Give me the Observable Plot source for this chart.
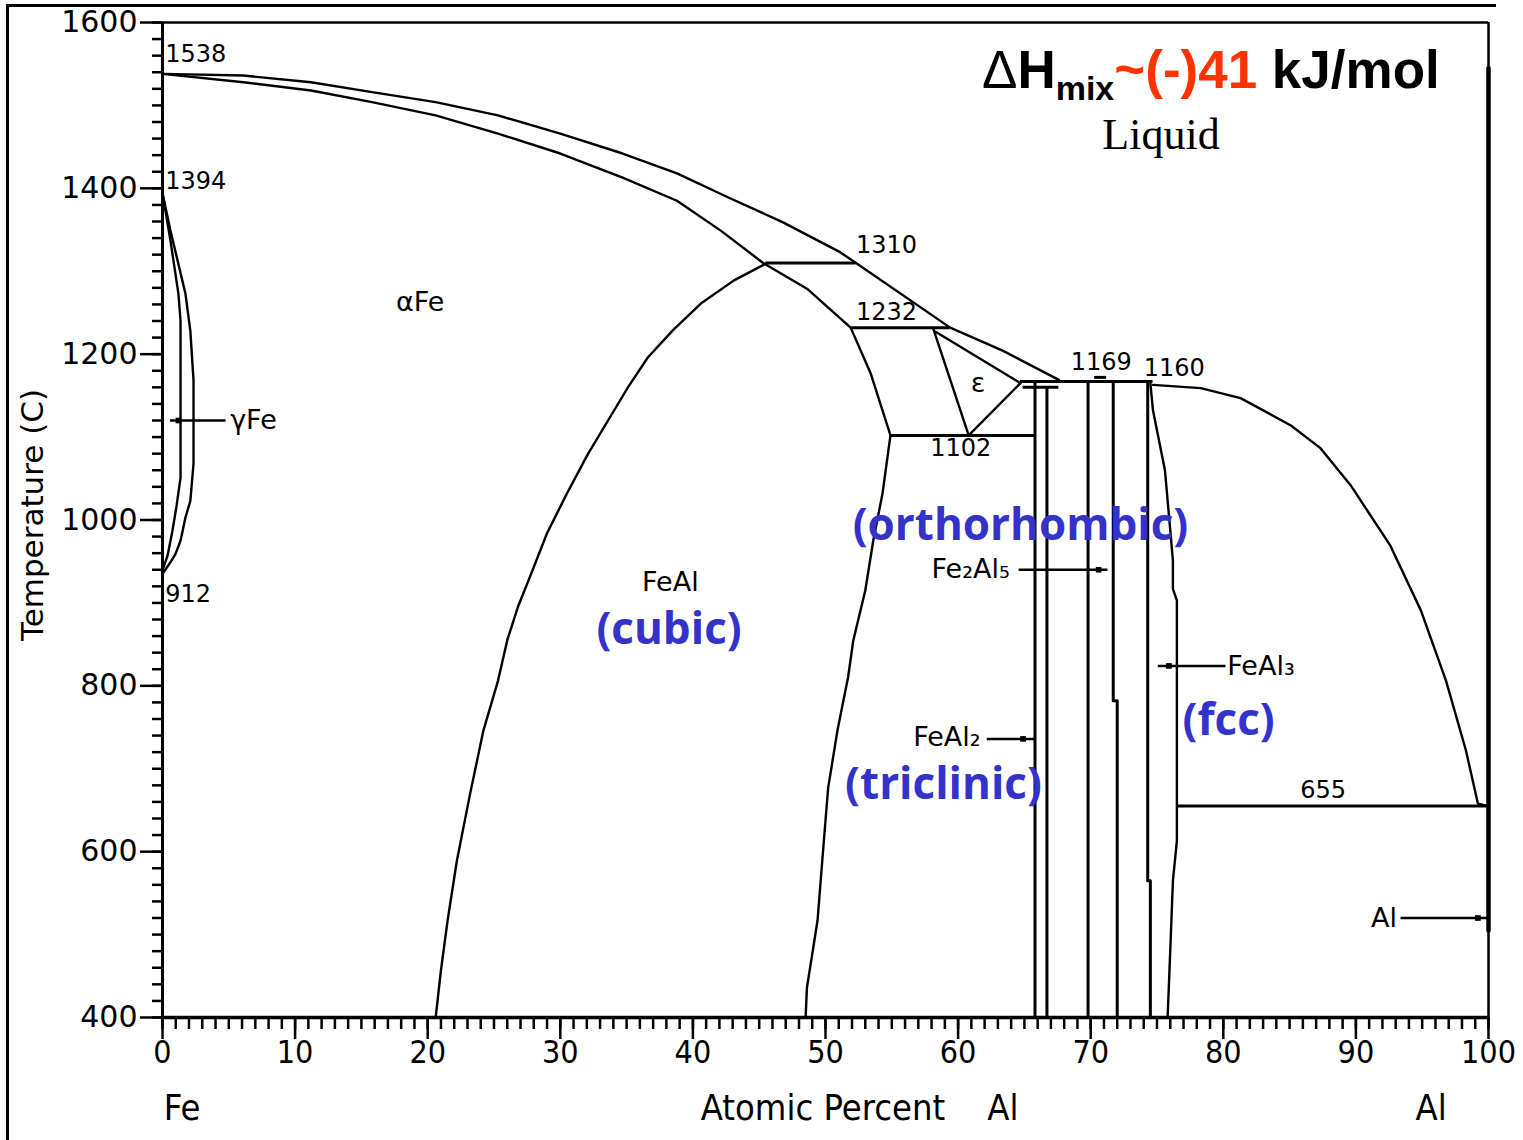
<!DOCTYPE html>
<html>
<head>
<meta charset="utf-8">
<script src="https://cdn.jsdelivr.net/npm/d3@7"></script>
<script src="https://cdn.jsdelivr.net/npm/@observablehq/plot@0.6"></script>
<style>
  body { margin: 0; background: #fff; }
  #wrap { position: relative; width: 1523px; height: 1140px; overflow: hidden; background: #fff; }
  #wrap svg { position: absolute; left: 0; top: 0; }
  #frame { position: absolute; left: 6px; top: 4px; width: 1487px; height: 1150px;
           border-left: 3px solid #000; border-top: 3px solid #000; pointer-events: none; }
  #title { position: absolute; left: 982px; top: 43px; line-height: 53px; white-space: nowrap;
           font-family: "Liberation Sans", Arial, sans-serif; font-weight: bold; font-size: 53px; color: #000; }
  #title .delta { font-weight: normal; }
  #title sub { font-size: 34px; vertical-align: -12px; line-height: 0; }
  #title .red { color: #ff3300; }
</style>
</head>
<body>
<div id="wrap">
  <div id="frame"></div>
  <div id="title"><span class="delta">Δ</span>H<sub>mix</sub><span class="red">~(-)41</span> kJ/mol</div>
</div>
<script>
// ---------- phase boundaries: [atomic % Al, temperature °C] ----------
const liquidusFe = [[0,1538],[6.1,1536],[11.2,1528],[15.8,1516],[20.6,1504],[25.3,1488],[30.0,1466],[34.7,1442],[38.8,1418],[42.8,1388],[46.8,1359],[51.1,1323],[52.3,1310],[59.4,1232],[63.4,1204],[67.6,1169]];
const solidusFe = [[0,1538],[6.1,1528],[11.2,1518],[15.8,1504],[20.6,1488],[25.3,1466],[30.0,1442],[34.7,1413],[38.8,1385],[42.1,1349],[45.3,1310],[48.6,1279],[51.9,1232],[53.4,1177],[54.7,1112],[54.9,1102]];
const feAlRight = [[54.9,1102],[54.3,1032],[53.6,975],[53.0,915],[52.1,855],[51.7,810],[50.9,746],[50.2,677],[49.8,598],[49.4,517],[48.6,436],[48.5,400]];
const feAlLeft = [[45.6,1310],[43.1,1289],[40.6,1261],[38.5,1229],[36.6,1196],[35.1,1160],[33.6,1120],[32.1,1080],[30.5,1032],[29.0,984],[27.8,935],[26.8,895],[26.0,855],[25.3,806],[24.2,746],[23.2,670],[22.2,589],[21.5,517],[21.0,457],[20.6,400]];
const gammaOuter = [[0,1394],[0.6,1349],[1.73,1273],[2.1,1228],[2.34,1168],[2.34,1068],[2.1,1023],[1.73,1003],[1.36,975],[0.98,959],[0.6,949],[0,935]];
const gammaInner = [[0,1394],[0.6,1337],[1.2,1273],[1.36,1240],[1.36,1051],[1.06,1017],[0.75,987],[0.38,957],[0,939]];
const epsLeft = [[58.1,1232],[60.8,1102]];
const epsTop = [[58.3,1227],[64.7,1165]];
const epsBottom = [[60.8,1102],[64.7,1165]];
const feAl3Right = [[74.5,1165],[74.7,1132],[75.6,1060],[76.2,951],[76.2,917],[76.5,903],[76.5,613],[76.2,565],[76.0,481],[75.8,400]];
const liquidusAl = [[74.7,1163],[78.3,1159],[81.3,1147],[85.1,1114],[87.3,1087],[89.6,1042],[92.6,969],[94.9,891],[96.8,806],[98.3,722],[99.2,658],[100,655]];
// intermetallic compound boundaries (near-vertical)
const feAl2Left = [[65.8,1165],[65.8,400]];
const feAl2Right = [[66.7,1160],[66.7,400]];
const fe2Al5Left = [[69.8,1167],[69.8,400]];
const fe2Al5Right = [[71.7,1167],[71.7,782],[72.0,782],[72.0,400]];
const feAl3Left = [[74.3,1165],[74.3,565],[74.5,565],[74.5,400]];
const pureAl = [[100,1545],[100,505]];

// invariant (horizontal) lines
const isoT  = [1310, 1232, 1102, 1167, 1160, 1172, 655];
const isoX1 = [45.5, 51.9, 54.9, 64.7, 64.9, 70.3, 76.5];
const isoX2 = [52.3, 59.4, 65.8, 74.7, 67.6, 71.2, 100];

// leader lines for phase labels
const leadT   = [1120, 940, 736, 824, 520];
const leadX1  = [0.6, 64.6, 62.2, 75.1, 93.4];
const leadX2  = [4.8, 71.3, 65.8, 80.2, 100];
const leadDot = [1.2, 70.6, 64.9, 75.9, 99.2];

// temperature labels
const tempText = ["1538","1394","912","1310","1232","1169","1160","1102","655"];
const tempX    = [0.2, 0.2, 0.2, 52.3, 52.3, 68.5, 74.0, 57.9, 85.8];
const tempT    = [1562, 1409, 910, 1331, 1250, 1190, 1183, 1086, 674];

// phase labels
const phaseStartText = ["αFe","γFe","FeAl₃"];
const phaseStartX = [17.6, 5.1, 80.3];
const phaseStartT = [1262, 1120, 824];
const phaseEndText = ["Fe₂Al₅","FeAl₂","Al"];
const phaseEndX = [63.9, 61.7, 93.1];
const phaseEndT = [940, 738, 520];
const phaseMidText = ["ε","FeAl"];
const phaseMidX = [61.5, 38.3];
const phaseMidT = [1165, 925];

// crystal structure labels
const structText = ["(cubic)","(orthorhombic)","(triclinic)","(fcc)"];
const structX = [38.2, 64.7, 58.9, 80.4];
const structT = [867, 993, 681, 758];

// axis ticks and bottom labels
const yMajor = d3.range(400, 1601, 200);
const yMinor = d3.range(400, 1601, 20);
const xMajor = d3.range(0, 101, 10);
const xMinor = d3.range(0, 101, 1);
const bottomText = ["Fe", "Atomic Percent", "Al", "Al"];
const bottomX = [0.1, 40.6, 62.2, 94.5];

// ---------- build tables ----------
const curves = {liquidusFe, solidusFe, feAlRight, feAlLeft, gammaOuter, gammaInner, epsLeft, epsTop, epsBottom, feAl3Right, liquidusAl};
const compounds = {feAl2Left, feAl2Right, fe2Al5Left, fe2Al5Right, feAl3Left};
const toRows = obj => Object.entries(obj).flatMap(([k, arr]) => arr.map(([x, T]) => ({series: k, x, T})));
const curveRows = toRows(curves);
const compoundRows = toRows(compounds);
const pureAlRows = pureAl.map(([x, T]) => ({x, T}));
const isoRows = isoT.map((T, i) => ({T, x1: isoX1[i], x2: isoX2[i]}));
const leadRows = leadT.map((T, i) => ({T, x1: leadX1[i], x2: leadX2[i], dot: leadDot[i]}));
const tempRows = tempText.map((t, i) => ({t, x: tempX[i], T: tempT[i]}));
const startRows = phaseStartText.map((t, i) => ({t, x: phaseStartX[i], T: phaseStartT[i]}));
const endRows = phaseEndText.map((t, i) => ({t, x: phaseEndX[i], T: phaseEndT[i]}));
const midRows = phaseMidText.map((t, i) => ({t, x: phaseMidX[i], T: phaseMidT[i]}));
const structRows = structText.map((t, i) => ({t, x: structX[i], T: structT[i]}));
const bottomRows = bottomText.map((t, i) => ({t, x: bottomX[i]}));

const labelFont = "DejaVu Sans, Verdana, sans-serif";
const condensed = "DejaVu Sans Condensed, Liberation Sans Narrow, DejaVu Sans, sans-serif";

const chart = Plot.plot({
  width: 1523,
  height: 1140,
  marginLeft: 162,
  marginRight: 35,
  marginTop: 22,
  marginBottom: 123,
  x: {domain: [0, 100]},
  y: {domain: [400, 1600]},
  style: {background: "transparent", color: "black", fontFamily: labelFont},
  marks: [
    // axes ticks
    Plot.axisY({ticks: yMinor, tickSize: 10, strokeWidth: 2.5, tickFormat: () => "", label: null}),
    Plot.axisY({ticks: yMajor, tickSize: 22, tickPadding: 3, strokeWidth: 2.5, fontSize: 30,
                fontFamily: labelFont, tickFormat: d => String(d), label: null}),
    Plot.axisX({ticks: xMinor, tickSize: 12, strokeWidth: 2.5, tickFormat: () => "", label: null}),
    Plot.axisX({ticks: xMajor, tickSize: 22, tickPadding: 1, strokeWidth: 2.5, fontSize: 32,
                fontFamily: condensed, tickFormat: d => String(d), label: null}),
    Plot.text(["Temperature (C)"], {frameAnchor: "left", textAnchor: "middle", rotate: -90, dx: -129, dy: -5,
                                    fontSize: 31, fontFamily: labelFont}),
    // frame
    Plot.ruleY([1600], {strokeWidth: 2.5}),
    Plot.ruleX([100], {strokeWidth: 2.5}),
    Plot.ruleX([0], {strokeWidth: 3}),
    Plot.ruleY([400], {strokeWidth: 3.5}),
    // phase boundaries
    Plot.line(curveRows, {x: "x", y: "T", z: "series", stroke: "black", strokeWidth: 2.4, curve: "linear"}),
    Plot.line(compoundRows, {x: "x", y: "T", z: "series", stroke: "black", strokeWidth: 3}),
    Plot.line(pureAlRows, {x: "x", y: "T", stroke: "black", strokeWidth: 4.5}),
    Plot.ruleY(isoRows, {y: "T", x1: "x1", x2: "x2", stroke: "black", strokeWidth: 3}),
    // leaders
    Plot.ruleY(leadRows, {y: "T", x1: "x1", x2: "x2", stroke: "black", strokeWidth: 2.5}),
    Plot.dot(leadRows, {x: "dot", y: "T", symbol: "square", r: 3.2, fill: "black"}),
    // labels
    Plot.text(tempRows, {x: "x", y: "T", text: "t", textAnchor: "start", fontSize: 24, fill: "black"}),
    Plot.text(startRows, {x: "x", y: "T", text: "t", textAnchor: "start", fontSize: 27, fill: "black"}),
    Plot.text(endRows, {x: "x", y: "T", text: "t", textAnchor: "end", fontSize: 27, fill: "black"}),
    Plot.text(midRows, {x: "x", y: "T", text: "t", textAnchor: "middle", fontSize: 27, fill: "black"}),
    Plot.text(structRows, {x: "x", y: "T", text: "t", textAnchor: "middle", fontSize: 44, fontWeight: "bold",
                           fontFamily: "Open Sans, Noto Sans, sans-serif", fill: "#3333cc"}),
    Plot.text(["Liquid"], {x: [75.3], y: [1464], text: d => d, fontSize: 44,
                           fontFamily: "Liberation Serif, Times New Roman, serif", fill: "black"}),
    Plot.text(bottomRows, {x: "x", y: () => 290, text: "t", textAnchor: "start", fontSize: 36,
                           fontFamily: condensed, fill: "black"})
  ]
});
document.getElementById("wrap").prepend(chart);
</script>
</body>
</html>
